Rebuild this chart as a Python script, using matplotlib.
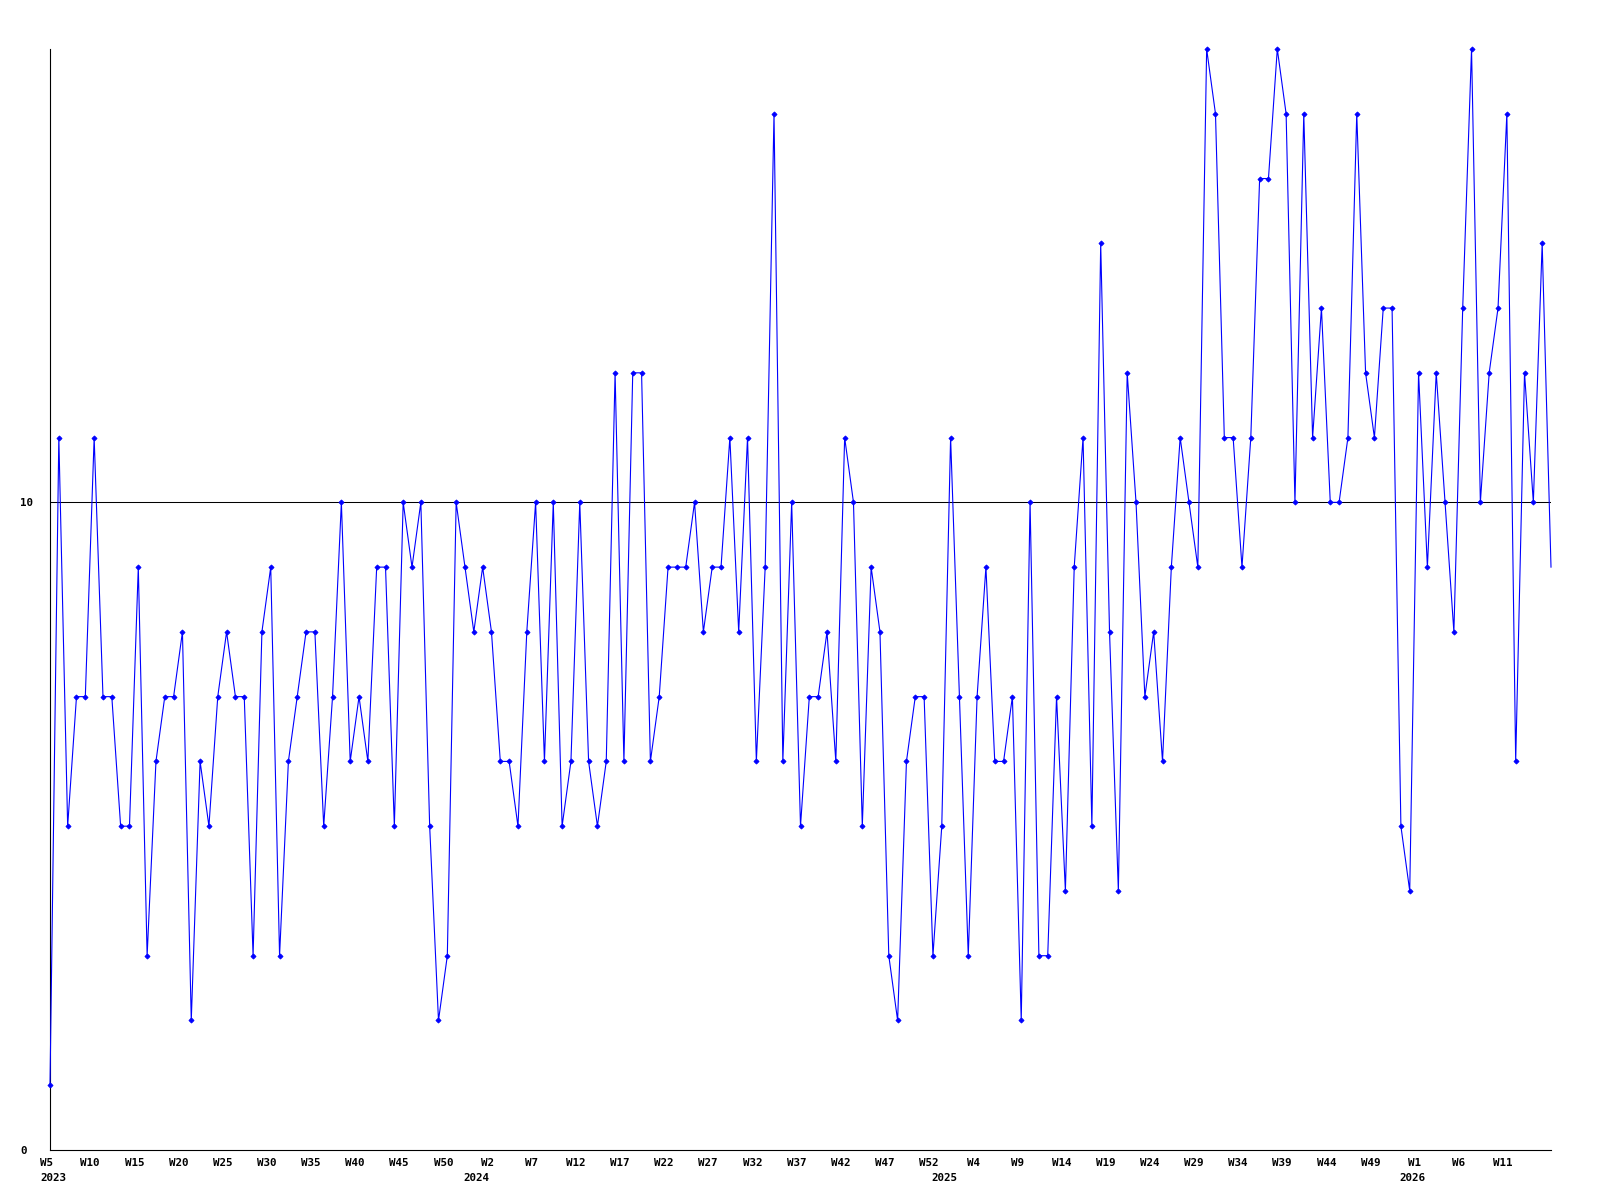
import matplotlib
matplotlib.use("Agg")
import matplotlib.pyplot as plt
from matplotlib.transforms import ScaledTranslation
import numpy as np

# Weekly values, 2023 W5 .. 2026 W16
values = [1, 11, 5, 7, 7, 11, 7, 7, 5, 5,
          9, 3, 6, 7, 7, 8, 2, 6, 5, 7,
          8, 7, 7, 3, 8, 9, 3, 6, 7, 8,
          8, 5, 7, 10, 6, 7, 6, 9, 9, 5,
          10, 9, 10, 5, 2, 3, 10, 9, 8, 9,
          8, 6, 6, 5, 8, 10, 6, 10, 5, 6,
          10, 6, 5, 6, 12, 6, 12, 12, 6, 7,
          9, 9, 9, 10, 8, 9, 9, 11, 8, 11,
          6, 9, 16, 6, 10, 5, 7, 7, 8, 6,
          11, 10, 5, 9, 8, 3, 2, 6, 7, 7,
          3, 5, 11, 7, 3, 7, 9, 6, 6, 7,
          2, 10, 3, 3, 7, 4, 9, 11, 5, 14,
          8, 4, 12, 10, 7, 8, 6, 9, 11, 10,
          9, 17, 16, 11, 11, 9, 11, 15, 15, 17,
          16, 10, 16, 11, 13, 10, 10, 11, 16, 12,
          11, 13, 13, 5, 4, 12, 9, 12, 10, 8,
          13, 17, 10, 12, 13, 16, 6, 12, 10, 14,
          9]

week_tick_labels = ["W5", "W10", "W15", "W20", "W25", "W30", "W35", "W40", "W45", "W50",
                    "W2", "W7", "W12", "W17", "W22", "W27", "W32", "W37", "W42", "W47",
                    "W52", "W4", "W9", "W14", "W19", "W24", "W29", "W34", "W39", "W44",
                    "W49", "W1", "W6", "W11"]
tick_step = 5

year_labels = ["2023", "2024", "2025", "2026"]
year_start_index = [0, 49, 102, 155]

y_ticks = [0, 10]
ref_level = 10

x = np.arange(len(values))

fig = plt.figure(figsize=(16, 12), dpi=100)
ax = fig.add_axes([50/1600, 1 - 1150/1200, 1501/1600, 1101/1200])

ax.axhline(ref_level, color="black", lw=0.75, zorder=1)
ax.plot(x, values, color="#0000ff", lw=0.8, marker="D", ms=2.6, mew=0.6,
        markevery=list(range(len(values) - 1)), zorder=3, clip_on=False)

ax.set_xlim(0, len(values) - 1)
ax.set_ylim(0, 17)

for s in ["top", "right"]:
    ax.spines[s].set_visible(False)
for s in ["left", "bottom"]:
    ax.spines[s].set_linewidth(0.8)
    ax.spines[s].set_color("black")

font = dict(family="DejaVu Sans Mono", weight="bold", size=7.8)

ax.set_xticks(x[::tick_step][:len(week_tick_labels)])
ax.set_xticklabels(week_tick_labels, **font)
ax.tick_params(axis="x", length=0, pad=5.5)
off = ScaledTranslation(-4/100, 0, fig.dpi_scale_trans)
for lab in ax.get_xticklabels():
    lab.set_transform(lab.get_transform() + off)

ax.set_yticks(y_ticks)
ax.set_yticklabels([str(v) for v in y_ticks], **font)
ax.tick_params(axis="y", length=0, pad=21.6)
for lab in ax.get_yticklabels():
    lab.set_horizontalalignment("left")

for i, (lab, idx) in enumerate(zip(year_labels, year_start_index)):
    if i == 0:
        ax.annotate(lab, xy=(idx, 0), xycoords=("data", "axes fraction"),
                    xytext=(-7.2, -16.5), textcoords="offset points",
                    ha="left", va="top", **font)
    else:
        ax.annotate(lab, xy=(idx, 0), xycoords=("data", "axes fraction"),
                    xytext=(-4.3, -16.5), textcoords="offset points",
                    ha="center", va="top", **font)

fig.savefig("out.png", dpi=100)
